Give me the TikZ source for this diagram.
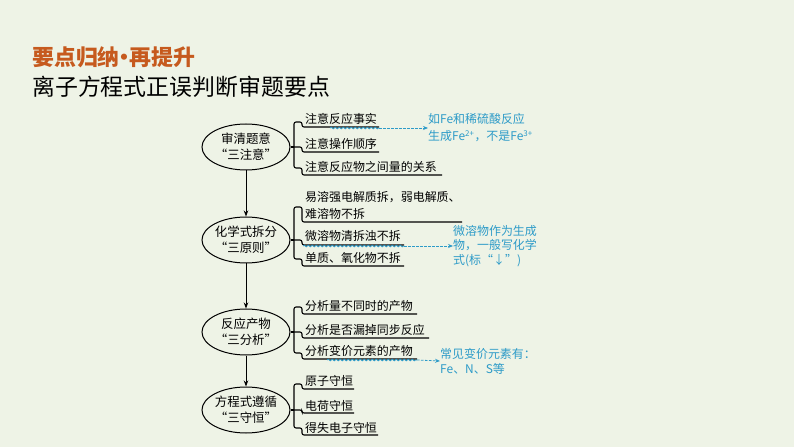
\documentclass[tikz,border=0pt]{standalone}
\usepackage{fontspec}
\setmainfont{Noto Sans CJK SC}
\usetikzlibrary{arrows.meta,decorations.pathmorphing,shapes.geometric}
\definecolor{bg}{RGB}{238,243,230}
\definecolor{ttl}{RGB}{198,90,30}
\definecolor{notec}{RGB}{45,155,200}
\begin{document}
\begin{tikzpicture}[x=1bp,y=-1bp,
  oval/.style={draw,ellipse,minimum width=77bp,minimum height=46bp,inner sep=0pt,align=center,font=\fontsize{12.5}{16}\selectfont,line width=1bp},
  item/.style={anchor=base west,inner sep=0pt,font=\fontsize{12}{17}\selectfont},
  ul/.style={line width=1.1bp,rounded corners=2bp},
  notetext/.style={anchor=west,inner sep=0pt,align=left,text=notec},
  notearrow/.style={notec,dash pattern=on 2.5bp off 1.5bp,line width=0.8bp,-{Stealth[length=5bp,width=4bp]}},
  wavy/.style={notec,line width=0.8bp,decorate,decoration={snake,segment length=4bp,amplitude=0.8bp}},
  flow/.style={line width=1bp,-{Stealth[length=6bp,width=4.5bp]}}
]
\fill[bg] (0,0) rectangle (794,447);
\useasboundingbox (0,0) rectangle (794,447);

% titles
\node[anchor=west,inner sep=0pt,text=ttl,font=\fontsize{22}{26}\selectfont\bfseries] (t1) at (32,57) {要点归纳\makebox[0.45em]{•}再提升};
\node[anchor=west,inner sep=0pt,font=\fontsize{23}{27}\selectfont] (t2) at (32,87) {离子方程式正误判断审题要点};

% main ellipses
\node[oval] (e1) at (246,147) {审清题意\\“三注意”};
\node[oval] (e2) at (246,240) {化学式拆分\\“三原则”};
\node[oval] (e3) at (246,332) {反应产物\\“三分析”};
\node[oval] (e4) at (246,410) {方程式遵循\\“三守恒”};

\draw[flow] (e1) -- (e2);
\draw[flow] (e2) -- (e3);
\draw[flow] (e3) -- (e4);

% junction points
\coordinate (j1) at (294,147);
\coordinate (j2) at (294,240);
\coordinate (j3) at (294,332);
\coordinate (j4) at (294,410);
\draw[line width=1.1bp] (e1) -- (j1);
\draw[line width=1.1bp] (e2) -- (j2);
\draw[line width=1.1bp] (e3) -- (j3);
\draw[line width=1.1bp] (e4) -- (j4);

% group 1
\node[item] (g1a) at (305,124) {注意反应事实};
\node[item] (g1b) at (305,149) {注意操作顺序};
\node[item] (g1c) at (305,172) {注意反应物之间量的关系};
\draw[ul] (379,127) -- (302,127) -- (302,122) -- (294,122) -- (294,168) -- (302,168) -- (302,175) -- (442,175);
\draw[ul] (j1) -- (302,147) -- (302,152) -- (379,152);

% group 2
\node[item] (g2a) at (305,202) {易溶强电解质拆，弱电解质、};
\node[item] (g2a2) at (305,219) {难溶物不拆};
\node[item] (g2b) at (305,241) {微溶物清拆浊不拆};
\node[item] (g2c) at (305,263) {单质、氧化物不拆};
\draw[ul] (462,222) -- (302,222) -- (302,207) -- (294,207) -- (294,259) -- (302,259) -- (302,266) -- (404,266);
\draw[ul] (j2) -- (302,240) -- (302,245) -- (404,245);

% group 3
\node[item] (g3a) at (305,311) {分析量不同时的产物};
\node[item] (g3b) at (305,335) {分析是否漏掉同步反应};
\node[item] (g3c) at (305,356) {分析变价元素的产物};
\draw[ul] (417,314) -- (302,314) -- (302,307) -- (294,307) -- (294,353) -- (302,353) -- (302,359) -- (417,359);
\draw[ul] (j3) -- (302,332) -- (302,338) -- (429,338);

% group 4
\node[item] (g4a) at (305,386) {原子守恒};
\node[item] (g4b) at (305,410) {电荷守恒};
\node[item] (g4c) at (305,432) {得失电子守恒};
\draw[ul] (354,389) -- (302,389) -- (302,384) -- (294,384) -- (294,428) -- (302,428) -- (302,435) -- (378,435);
\draw[ul] (j4) -- (302,410) -- (302,413) -- (354,413);

% notes
\node[notetext,font=\fontsize{12}{17}\selectfont] (n1) at (428,128) {如Fe和稀硫酸反应\\生成Fe\textsuperscript{2+}，不是Fe\textsuperscript{3+}};
\node[notetext,font=\fontsize{12}{14.5}\selectfont] (n2) at (453,246) {微溶物作为生成\\物，一般写化学\\式(标“↓”)};
\node[notetext,font=\fontsize{12}{15}\selectfont] (n3) at (440,361) {常见变价元素有：\\Fe、N、S等};

\coordinate (a1) at (379,128);
\coordinate (a2) at (404,246);
\coordinate (a3) at (417,360);
\draw[wavy] (330,128) -- (a1);
\draw[wavy] (303,246) -- (a2);
\draw[wavy] (327,360) -- (a3);
\draw[notearrow] (a1) -- (n1.west);
\draw[notearrow] (a2) -- (n2.west);
\draw[notearrow] (a3) -- (n3.west);
\end{tikzpicture}
\end{document}
